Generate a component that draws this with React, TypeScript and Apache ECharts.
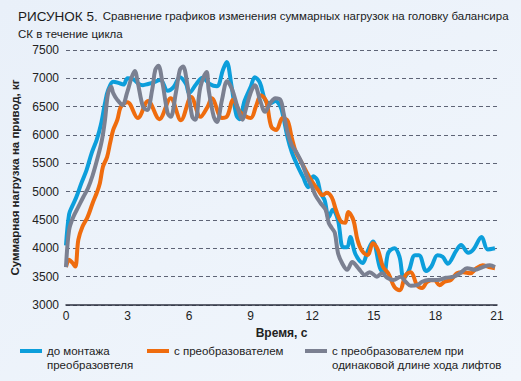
import React, { useEffect, useRef } from "react";
import * as echarts from "echarts";

const FONT = '"Liberation Sans", Arial, sans-serif';

const titleLine1 = "Сравнение графиков изменения суммарных нагрузок на головку балансира";
const titleLine2 = "СК в течение цикла";
const yAxisName = "Суммарная нагрузка на привод, кг";
const xAxisName = "Время, с";
const seriesNames = [
  "до монтажа\nпреобразовтеля",
  "с преобразователем",
  "с преобразователем при\nодинаковой длине хода лифтов",
];

// до монтажа преобразователя
const tBlue = [0, 0.15, 0.3, 0.5, 0.75, 1.0, 1.25, 1.5, 1.7, 1.9, 2.05, 2.3, 2.55, 2.8, 3.0, 3.3, 3.55, 3.75, 4.0, 4.2, 4.6, 4.95, 5.25, 5.55, 5.85, 6.0, 6.35, 6.65, 7.0, 7.35, 7.65, 7.83, 8.05, 8.3, 8.45, 8.7, 9.0, 9.2, 9.45, 9.7, 9.95, 10.2, 10.45, 10.6, 10.8, 11.0, 11.3, 11.55, 11.8, 12.05, 12.25, 12.4, 12.6, 12.8, 13.0, 13.25, 13.5, 13.7, 13.85, 14.1, 14.45, 14.7, 14.95, 15.3, 15.5, 15.7, 16.0, 16.25, 16.45, 16.7, 17.0, 17.2, 17.55, 17.8, 18.1, 18.35, 18.6, 19.0, 19.25, 19.6, 19.85, 20.25, 20.55, 20.9];
const vBlue = [4050, 4600, 4740, 4900, 5150, 5380, 5680, 5920, 6180, 6560, 6790, 6940, 6920, 6890, 7000, 6980, 6900, 6880, 6900, 6920, 6970, 6780, 6850, 7020, 6900, 6740, 6900, 7010, 6900, 6860, 7150, 7290, 6900, 6350, 6280, 6600, 6850, 7020, 6920, 6620, 6560, 6600, 6500, 6300, 5950, 5700, 5440, 5260, 5080, 5270, 5200, 4980, 4850, 4550, 4680, 4500, 4020, 4020, 4200, 3900, 3740, 3950, 4120, 3650, 3560, 3920, 4000, 3850, 3480, 3600, 3880, 3880, 3600, 3680, 3880, 3850, 3730, 3950, 4060, 3920, 3980, 4200, 3980, 4000];

// с преобразователем
const tOrange = [0, 0.15, 0.3, 0.45, 0.6, 0.8, 1.05, 1.3, 1.5, 1.65, 1.8, 2.0, 2.15, 2.3, 2.5, 2.65, 2.85, 3.0, 3.5, 4.0, 4.55, 5.1, 5.6, 6.1, 6.55, 6.9, 7.1, 7.6, 7.85, 8.15, 8.5, 9.0, 9.25, 9.5, 9.75, 10.0, 10.25, 10.55, 10.8, 11.0, 11.2, 11.5, 11.7, 11.95, 12.3, 12.5, 12.7, 12.95, 13.15, 13.4, 13.6, 13.75, 14.0, 14.2, 14.4, 14.7, 14.95, 15.2, 15.45, 15.7, 16.0, 16.25, 16.55, 16.8, 17.1, 17.35, 17.6, 17.95, 18.2, 18.45, 18.75, 19.05, 19.35, 19.7, 20.0, 20.3, 20.6, 20.9];
const vOrange = [3670, 3800, 3750, 3680, 4150, 4380, 4550, 4800, 4980, 5150, 5440, 5610, 5860, 6090, 6265, 6480, 6560, 6580, 6300, 6600, 6280, 6650, 6260, 6670, 6320, 6500, 6650, 6300, 6330, 6620, 6400, 6300, 6500, 6700, 6600, 6150, 6090, 6300, 6250, 5950, 5700, 5500, 5360, 5200, 5020, 4940, 4980, 4900, 4680, 4470, 4450, 4640, 4500, 4150, 3970, 3880, 4090, 3970, 3670, 3560, 3320, 3260, 3530, 3580, 3350, 3300, 3410, 3440, 3350, 3410, 3440, 3560, 3580, 3560, 3650, 3700, 3670, 3650];

// с преобразователем при одинаковой длине хода лифтов
const tGray = [0, 0.15, 0.35, 0.6, 0.85, 1.07, 1.3, 1.55, 1.75, 1.9, 2.05, 2.2, 2.3, 2.5, 2.75, 2.97, 3.2, 3.35, 3.5, 3.75, 3.95, 4.2, 4.35, 4.5, 4.7, 4.95, 5.1, 5.35, 5.55, 5.7, 5.9, 6.15, 6.3, 6.55, 6.85, 6.95, 7.2, 7.35, 7.6, 7.85, 8.1, 8.35, 8.6, 8.75, 9.0, 9.2, 9.45, 9.7, 9.95, 10.2, 10.45, 10.6, 10.8, 11.0, 11.25, 11.5, 11.75, 11.99, 12.15, 12.4, 12.65, 12.8, 12.95, 13.1, 13.25, 13.45, 13.7, 13.95, 14.2, 14.35, 14.55, 14.8, 15.15, 15.4, 15.65, 15.95, 16.3, 16.55, 16.8, 17.1, 17.35, 17.65, 18.1, 18.5, 18.9, 19.2, 19.55, 19.95, 20.3, 20.65, 20.9];
const vGray = [3670, 4320, 4550, 4730, 4910, 5060, 5290, 5610, 5910, 6265, 6740, 6850, 6740, 6620, 6530, 6740, 7020, 7130, 6920, 6500, 6440, 6800, 7150, 7220, 6920, 6390, 6320, 6740, 7150, 7210, 6920, 6320, 6270, 6850, 7110, 6800, 6320, 6230, 6620, 6950, 6800, 6500, 6270, 6440, 6750, 6880, 6620, 6410, 6560, 6650, 6620, 6390, 6040, 5820, 5680, 5500, 5260, 5080, 4940, 4800, 4680, 4450, 4360, 4270, 3920, 3740, 3620, 3760, 3670, 3600, 3530, 3580, 3500, 3560, 3480, 3440, 3500, 3410, 3340, 3350, 3410, 3440, 3440, 3480, 3500, 3560, 3650, 3620, 3670, 3700, 3670];

const xTicks = { min: 0, max: 21, interval: 3 };
const yTicks = { min: 3000, max: 7500, interval: 500 };

const colors = ["#0c9edb", "#ef6c0e", "#7b8091"];

export default function App() {
  const ref = useRef<HTMLDivElement>(null);
  useEffect(() => {
    if (!ref.current) return;
    const chart = echarts.init(ref.current, undefined, { renderer: "svg" });
    const sets = [
      [tBlue, vBlue],
      [tOrange, vOrange],
      [tGray, vGray],
    ];
    const legendBase = {
      itemWidth: 22,
      itemHeight: 4,
      icon: "rect",
      itemGap: 5,
      padding: 0,
      textStyle: { fontFamily: FONT, fontSize: 11.5, color: "#222", lineHeight: 14 },
    };
    chart.setOption({
      animation: false,
      backgroundColor: new echarts.graphic.LinearGradient(0, 0, 1, 1, [
        { offset: 0, color: "#e9f0f9" },
        { offset: 1, color: "#f1f6fc" },
      ]),
      color: colors,
      title: {
        left: 13,
        top: 2,
        text: `{a|РИСУНОК 5.} {b|${titleLine1}}\n{b|${titleLine2}}`,
        textStyle: {
          fontWeight: "normal",
          rich: {
            a: { fontFamily: FONT, fontSize: 13.5, fontWeight: "normal", color: "#1b1b1b", lineHeight: 18 },
            b: { fontFamily: FONT, fontSize: 11.5, fontWeight: "normal", color: "#1b1b1b", lineHeight: 18 },
          },
        },
      },
      grid: { left: 66, right: 24, top: 50, bottom: 76 },
      xAxis: {
        type: "value",
        ...xTicks,
        name: xAxisName,
        nameLocation: "middle",
        nameGap: 20,
        nameTextStyle: { fontFamily: FONT, fontSize: 12, fontWeight: "bold", color: "#222" },
        axisLine: { show: true, lineStyle: { color: "#2e3240", width: 1.5 } },
        axisTick: { show: false },
        axisLabel: { fontFamily: FONT, fontSize: 12, color: "#222", margin: 5 },
        splitLine: { show: false },
      },
      yAxis: {
        type: "value",
        ...yTicks,
        name: yAxisName,
        nameLocation: "middle",
        nameGap: 42,
        nameTextStyle: { fontFamily: FONT, fontSize: 11.5, fontWeight: "bold", color: "#222" },
        axisLine: { show: false },
        axisTick: { show: false },
        axisLabel: { fontFamily: FONT, fontSize: 12, color: "#222", margin: 7, formatter: (v: number) => String(v) },
        splitLine: { show: true, lineStyle: { color: "#5e6476", type: [4, 3], width: 1 } },
      },
      legend: [
        { ...legendBase, data: [seriesNames[0]], left: 20, top: 330, formatter: (n: string) => "\n" + n },
        { ...legendBase, data: [seriesNames[1]], left: 147, top: 344 },
        { ...legendBase, data: [seriesNames[2]], left: 305, top: 330, formatter: (n: string) => "\n" + n },
      ],
      series: sets.map(([ts, vs], i) => ({
        type: "line",
        name: seriesNames[i],
        data: ts.map((t, k) => [t, vs[k]]),
        smooth: 0.35,
        showSymbol: false,
        symbol: "none",
        lineStyle: { width: 4, color: colors[i] },
        z: 2 + i,
      })),
    });
    return () => chart.dispose();
  }, []);
  return <div ref={ref} style={{ position: "fixed", left: 0, top: 0, width: 521, height: 381 }} />;
}
